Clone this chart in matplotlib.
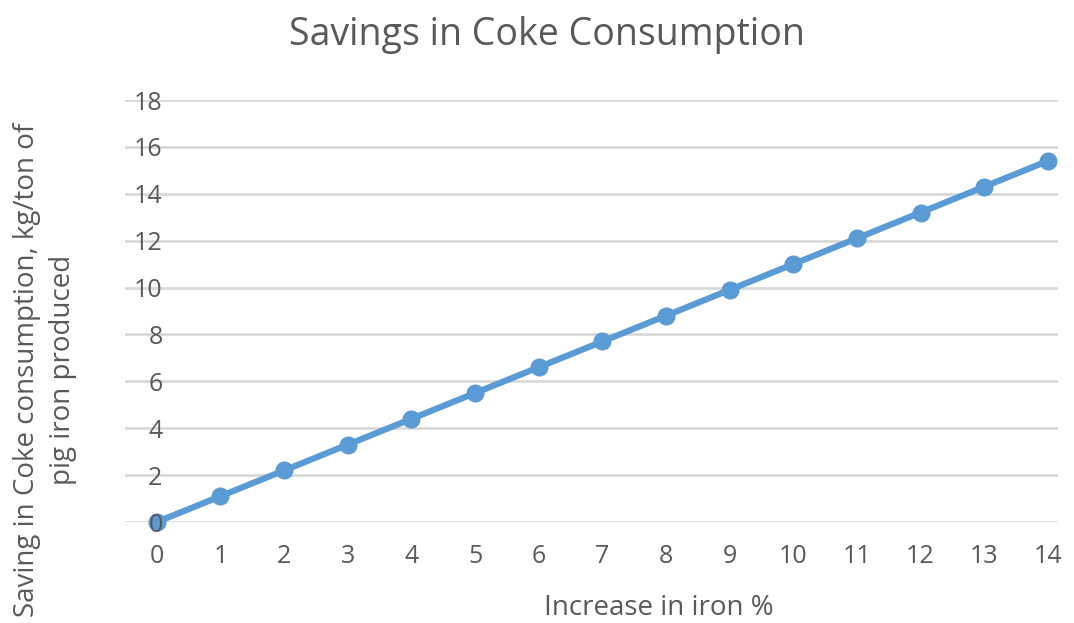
import matplotlib.pyplot as plt

iron_increase = list(range(0, 15))
coke_saving = [0, 1.1, 2.2, 3.3, 4.4, 5.5, 6.6, 7.7, 8.8, 9.9, 11.0, 12.1, 13.2, 14.3, 15.4]
y_ticks = list(range(0, 19, 2))

plt.rcParams['font.family'] = ['Open Sans', 'DejaVu Sans']
grey = '#595959'

fig = plt.figure(figsize=(10.74, 6.23), dpi=100)
ax = fig.add_axes([125 / 1074, 1 - 522 / 623, (1058 - 125) / 1074, (522 - 100) / 623])

# gridlines under the series, tick labels over it (the "0" sits on the first marker)
for t in y_ticks:
    ax.axhline(t, color='#D9D9D9', lw=2, zorder=1)
ax.plot(iron_increase, coke_saving, color='#5B9BD5', lw=4.5, marker='o', ms=12,
        clip_on=False, zorder=3)
ax.yaxis.set_zorder(4)

ax.set_xlim(-0.5, 14.16)
ax.set_ylim(0, 18)
ax.set_xticks(iron_increase)
ax.set_yticks(y_ticks)
for s in ax.spines.values():
    s.set_visible(False)
ax.tick_params(length=0, labelsize=18, labelcolor=grey)
ax.tick_params(axis='x', pad=16)
ax.tick_params(axis='y', pad=-27)
for lbl in ax.get_yticklabels():
    lbl.set_horizontalalignment('right')

fig.text(547 / 1074, 1 - 35 / 623, 'Savings in Coke Consumption', ha='center', va='center',
         fontsize=27, color=grey)
fig.text(659 / 1074, 1 - 608 / 623, 'Increase in iron %', ha='center', va='center',
         fontsize=20, color=grey)
fig.text(45 / 1074, 1 - 370 / 623, 'Saving in Coke consumption, kg/ton of\npig iron produced',
         ha='center', va='center', rotation=90, fontsize=20, color=grey, linespacing=1.35)

fig.savefig('out.png', dpi=100)
